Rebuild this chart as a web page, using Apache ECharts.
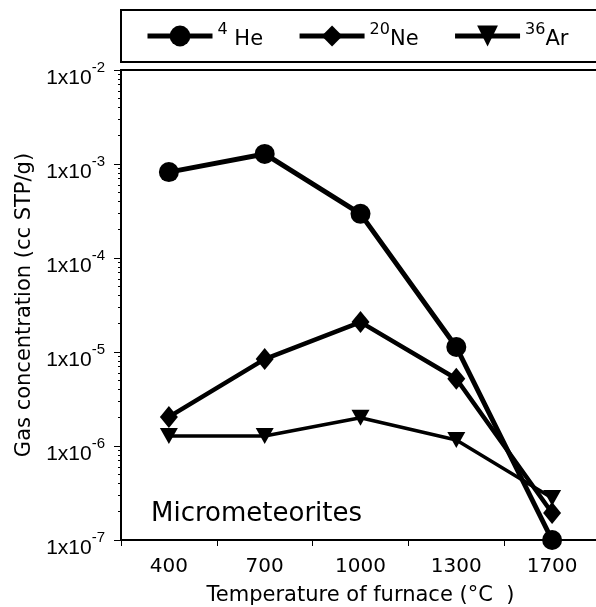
<!DOCTYPE html>
<html><head><meta charset="utf-8">
<script src="https://cdn.jsdelivr.net/npm/echarts@6/dist/echarts.min.js"></script>
<style>html,body{margin:0;padding:0;background:#fff}#c{width:596px;height:607px}</style>
</head><body><div id="c"></div>
<script>
// ---- data ----
const categories = ['400', '700', '1000', '1300', '1700'];
const he4  = [8.2e-4, 1.28e-3, 2.95e-4, 1.13e-5, 1.0e-7];
const ne20 = [2.04e-6, 8.4e-6, 2.08e-5, 5.2e-6, 1.94e-7];
const ar36 = [1.28e-6, 1.28e-6, 2.0e-6, 1.16e-6, 2.8e-7];
const yExponents = [-7, -6, -5, -4, -3, -2];
const legendSup = ['4', '20', '36'];
const legendBase = [' He', 'Ne', 'Ar'];
const seriesNames = ['4He', '20Ne', '36Ar'];
const xTitle = 'Temperature of furnace (°C  )';
const yTitle = 'Gas concentration (cc STP/g)';
const sampleLabel = 'Micrometeorites';

const FONT = 'DejaVu Sans';
const TICKFONT = 'Liberation Sans';
const minorTickVals = [];
for (let e = yExponents[0]; e < yExponents[yExponents.length - 1]; e++) {
  for (let m = 2; m <= 9; m++) minorTickVals.push(e + Math.log10(m));
}

const chart = echarts.init(document.getElementById('c'), null, {renderer: 'canvas'});
const option = {
  animation: false,
  backgroundColor: '#fff',
  grid: {left: 121, top: 70, right: -4, bottom: 67, show: true, borderColor: '#000', borderWidth: 2,
         containLabel: false, outerBoundsMode: 'none'},
  legend: {
    left: 145, top: 22, itemWidth: 65, itemHeight: 26, itemGap: 34, padding: 0,
    data: seriesNames,
    lineStyle: {width: 5, color: '#000'},
    itemStyle: {color: '#000'},
    formatter: function (name) {
      const i = seriesNames.indexOf(name);
      return '{sup|' + legendSup[i] + '}{base|' + legendBase[i] + '}';
    },
    textStyle: {
      color: '#000', fontFamily: FONT,
      rich: {
        sup: {fontSize: 16, fontFamily: FONT, color: '#000', lineHeight: 16, verticalAlign: 'top'},
        base: {fontSize: 21, fontFamily: FONT, color: '#000', lineHeight: 28, verticalAlign: 'bottom'}
      }
    }
  },
  xAxis: {
    type: 'category', data: categories, boundaryGap: true,
    name: xTitle, nameLocation: 'middle', nameGap: 45,
    nameTextStyle: {fontFamily: FONT, fontSize: 21, color: '#000'},
    axisLine: {lineStyle: {color: '#000', width: 2}},
    axisTick: {show: true, length: 6, lineStyle: {color: '#000', width: 1}},
    axisLabel: {color: '#000', fontFamily: FONT, fontSize: 20, margin: 17},
    splitLine: {show: false}
  },
  yAxis: [{
    type: 'log', logBase: 10, min: 1e-7, max: 1e-2,
    name: yTitle, nameLocation: 'middle', nameGap: 86, nameRotate: 90,
    nameTextStyle: {fontFamily: FONT, fontSize: 21, color: '#000'},
    axisLine: {show: true, lineStyle: {color: '#000', width: 2}},
    axisTick: {show: true, length: 7, lineStyle: {color: '#000', width: 1}},
    splitLine: {show: false},
    axisLabel: {
      margin: 16,
      padding: [9, 0, 0, 0],
      formatter: function (v) {
        const e = Math.round(Math.log10(v));
        return '{b|1x10}{s|' + e + '}';
      },
      rich: {
        b: {fontSize: 21, fontFamily: TICKFONT, color: '#000', lineHeight: 28, verticalAlign: 'bottom'},
        s: {fontSize: 15, fontFamily: TICKFONT, color: '#000', lineHeight: 12, verticalAlign: 'top'}
      }
    }
  }, {
    type: 'value', min: yExponents[0], max: yExponents[yExponents.length - 1], position: 'left',
    axisLine: {show: false}, axisLabel: {show: false}, splitLine: {show: false},
    axisTick: {show: true, length: 3, customValues: minorTickVals, lineStyle: {color: '#000', width: 1}}
  }],
  graphic: [
    {type: 'rect', shape: {x: 121, y: 10, width: 500, height: 52}, style: {fill: 'none', stroke: '#000', lineWidth: 2}, silent: true},
    {type: 'text', style: {x: 151, y: 514, text: sampleLabel, font: '26px "DejaVu Sans"', fill: '#000', verticalAlign: 'middle', align: 'left'}, silent: true}
  ],
  series: [
    {name: seriesNames[2], type: 'line', data: ar36, symbol: 'triangle', symbolRotate: 180, symbolSize: [18, 16],
      lineStyle: {color: '#000', width: 3.5}, itemStyle: {color: '#000'}, z: 3},
    {name: seriesNames[1], type: 'line', data: ne20, symbol: 'diamond', symbolSize: [18, 22],
      lineStyle: {color: '#000', width: 4.5}, itemStyle: {color: '#000'}, z: 4},
    {name: seriesNames[0], type: 'line', data: he4, symbol: 'circle', symbolSize: 20,
      lineStyle: {color: '#000', width: 5}, itemStyle: {color: '#000'}, z: 5}
  ]
};
chart.setOption(option);
</script>
</body></html>
